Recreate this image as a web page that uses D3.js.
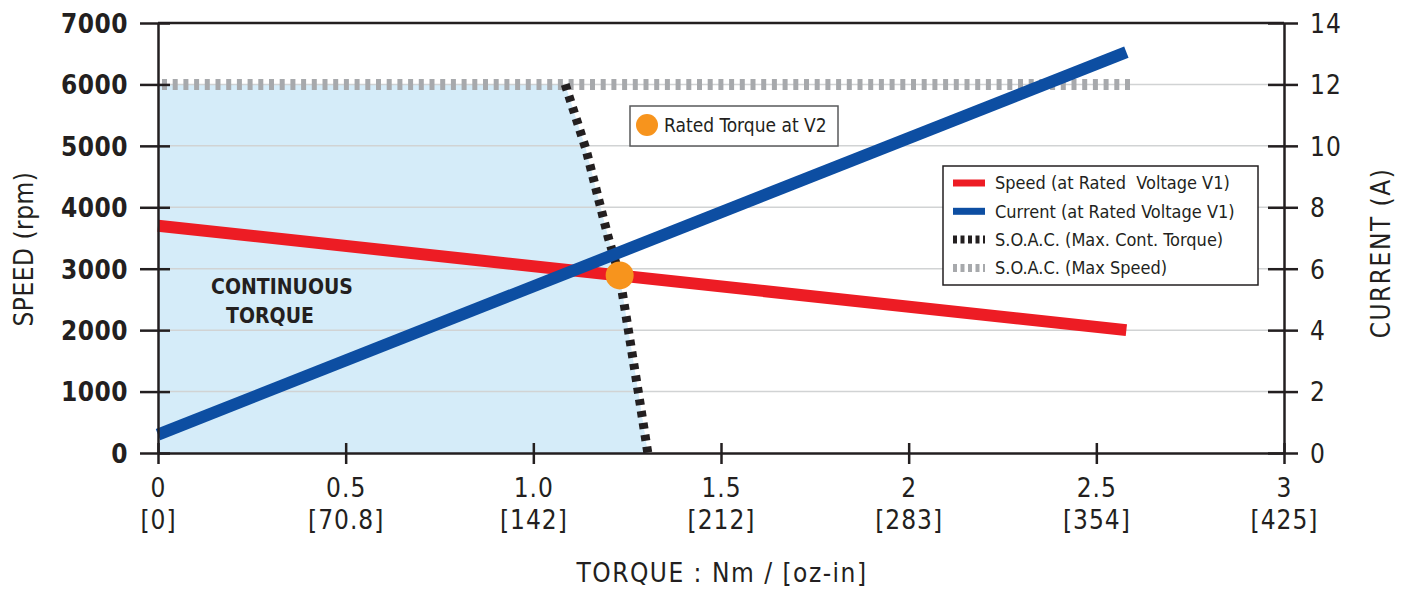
<!DOCTYPE html>
<html>
<head>
<meta charset="utf-8">
<script src="https://cdn.jsdelivr.net/npm/d3@7"></script>
<style>
  body { margin: 0; background: #fff; }
  svg text { font-family: "Liberation Sans Narrow", "DejaVu Sans Condensed", "Arial Narrow", sans-serif; font-stretch: condensed; fill: #231f20; }
  .tick text { font-size: 26px; letter-spacing: 1px; }
  .axis path, .axis line { stroke: #231f20; stroke-width: 2.5px; }
  .grid line { stroke: #d1d3d4; stroke-width: 1.5px; }
</style>
</head>
<body>
<svg id="chart" width="1408" height="589"></svg>
<script>
// tick values and labels
var torqueTicks = [0, 0.5, 1, 1.5, 2, 2.5, 3];
var torqueLabels = ["0", "0.5", "1.0", "1.5", "2", "2.5", "3"];
var ozinLabels = ["[0]", "[70.8]", "[142]", "[212]", "[283]", "[354]", "[425]"];
var speedTicks = [0, 1000, 2000, 3000, 4000, 5000, 6000, 7000];
var currentTicks = [0, 2, 4, 6, 8, 10, 12, 14];

// series (torque Nm, value)
var speedV1 = [[0, 3700], [2.58, 2000]];
var currentV1 = [[0, 0.6], [2.58, 13.05]];
var soacTorque = [[1.085, 6000], [1.14, 4950], [1.20, 3500], [1.23, 2880], [1.28, 980], [1.305, 0]];
var soacSpeed = [[0, 6000], [2.58, 6000]];
var ratedTorqueV2 = [1.23, 2890];

var legendItems = [
    { label: "Speed (at Rated  Voltage V1)", color: "#ed1c24", type: "solid" },
    { label: "Current (at Rated Voltage V1)", color: "#0d4ea2", type: "solid" },
    { label: "S.O.A.C. (Max. Cont. Torque)", color: "#231f20", type: "dash" },
    { label: "S.O.A.C. (Max Speed)", color: "#a7a9ac", type: "dash" }
];

var svg = d3.select("#chart");
var plotL = 158, plotR = 1284, plotT = 23, plotB = 453;

var x = d3.scaleLinear().domain([0, 3]).range([plotL, plotR]);
var yS = d3.scaleLinear().domain([0, 7000]).range([plotB, plotT]);
var yC = d3.scaleLinear().domain([0, 14]).range([plotB, plotT]);

// continuous torque region
var region = [[0, 0], [0, 6000]].concat(soacTorque);
svg.append("path")
    .attr("d", d3.line().x(function (d) { return x(d[0]); }).y(function (d) { return yS(d[1]); })(region) + "Z")
    .attr("fill", "#d5ecf9");

// grid
svg.append("g").attr("class", "grid")
    .selectAll("line")
    .data(speedTicks.slice(1, -1))
    .enter().append("line")
    .attr("x1", plotL).attr("x2", plotR)
    .attr("y1", function (d) { return yS(d); })
    .attr("y2", function (d) { return yS(d); });

// top frame
svg.append("line")
    .attr("x1", plotL).attr("x2", plotR)
    .attr("y1", plotT).attr("y2", plotT)
    .attr("stroke", "#231f20").attr("stroke-width", 2.5);

svg.append("text")
    .attr("x", 282).attr("y", 294)
    .attr("text-anchor", "middle")
    .style("font-size", "21px").style("font-weight", "bold")
    .text("CONTINUOUS");
svg.append("text")
    .attr("x", 270).attr("y", 323)
    .attr("text-anchor", "middle")
    .style("font-size", "21px").style("font-weight", "bold")
    .text("TORQUE");

var lineS = d3.line().x(function (d) { return x(d[0]); }).y(function (d) { return yS(d[1]); });
var lineC = d3.line().x(function (d) { return x(d[0]); }).y(function (d) { return yC(d[1]); });

svg.append("path")
    .attr("d", lineS(soacSpeed))
    .attr("fill", "none")
    .attr("stroke", "#a7a9ac")
    .attr("stroke-width", 11)
    .attr("stroke-dasharray", "5,5.7")
    .attr("transform", "translate(4,0)");

svg.append("path")
    .attr("d", lineS(soacTorque))
    .attr("fill", "none")
    .attr("stroke", "#231f20")
    .attr("stroke-width", 9)
    .attr("stroke-dasharray", "6,6");

svg.append("path")
    .attr("d", lineS(speedV1))
    .attr("fill", "none")
    .attr("stroke", "#ed1c24")
    .attr("stroke-width", 12);

svg.append("path")
    .attr("d", lineC(currentV1))
    .attr("fill", "none")
    .attr("stroke", "#0d4ea2")
    .attr("stroke-width", 12);

svg.append("circle")
    .attr("cx", x(ratedTorqueV2[0]))
    .attr("cy", yS(ratedTorqueV2[1]))
    .attr("r", 14)
    .attr("fill", "#f7941d");

// axes
var xAxis = svg.append("g").attr("class", "axis")
    .attr("transform", "translate(0," + plotB + ")")
    .call(d3.axisBottom(x).tickValues(torqueTicks).tickSize(11).tickSizeOuter(0).tickFormat(""));
xAxis.selectAll(".tick line").attr("y1", -10);
xAxis.selectAll(".tick text").remove();
xAxis.selectAll(".tick").each(function (d, i) {
    var t = d3.select(this).append("text").attr("text-anchor", "middle");
    t.append("tspan").attr("x", 0).attr("y", 44).text(torqueLabels[i]);
    t.append("tspan").attr("x", 0).attr("y", 76).text(ozinLabels[i]);
});

var yAxisL = svg.append("g").attr("class", "axis")
    .attr("transform", "translate(" + plotL + ",0)")
    .call(d3.axisLeft(yS).tickValues(speedTicks).tickSize(18).tickSizeOuter(0).tickFormat(d3.format("d")));
yAxisL.selectAll(".tick line").attr("x2", -18).attr("x1", 12);
yAxisL.selectAll(".tick text").attr("x", -30).attr("dy", "0.36em")
    .style("font-weight", "bold").style("letter-spacing", "0.5px");

var yAxisR = svg.append("g").attr("class", "axis")
    .attr("transform", "translate(" + plotR + ",0)")
    .call(d3.axisRight(yC).tickValues(currentTicks).tickSize(14).tickSizeOuter(0));
yAxisR.selectAll(".tick line").attr("x1", -16).attr("x2", 14);
yAxisR.selectAll(".tick text").attr("x", 26).attr("dy", "0.36em");

// axis titles
svg.append("text")
    .attr("transform", "translate(33,249) rotate(-90)")
    .attr("text-anchor", "middle")
    .style("font-size", "26px").style("letter-spacing", "0.5px")
    .text("SPEED (rpm)");
svg.append("text")
    .attr("transform", "translate(1390,253) rotate(-90)")
    .attr("text-anchor", "middle")
    .style("font-size", "26px").style("letter-spacing", "1.5px")
    .text("CURRENT (A)");
svg.append("text")
    .attr("x", 722).attr("y", 582)
    .attr("text-anchor", "middle")
    .style("font-size", "26px").style("letter-spacing", "1.5px")
    .text("TORQUE : Nm / [oz-in]");

// rated torque marker box
var rt = svg.append("g").attr("transform", "translate(630,106)");
rt.append("rect").attr("width", 208).attr("height", 40)
    .attr("fill", "#fff").attr("stroke", "#58595b").attr("stroke-width", 1.5);
rt.append("circle").attr("cx", 17).attr("cy", 19).attr("r", 11).attr("fill", "#f7941d");
rt.append("text").attr("x", 34).attr("y", 26)
    .style("font-size", "19px")
    .text("Rated Torque at V2");

// legend
var lg = svg.append("g").attr("transform", "translate(943,166)");
lg.append("rect").attr("width", 315).attr("height", 119)
    .attr("fill", "#fff").attr("stroke", "#231f20").attr("stroke-width", 1.5);
var item = lg.selectAll(".item")
    .data(legendItems)
    .enter().append("g")
    .attr("transform", function (d, i) { return "translate(0," + (17 + i * 28.3) + ")"; });
item.append("line")
    .attr("x1", 10).attr("x2", 42)
    .attr("stroke", function (d) { return d.color; })
    .attr("stroke-width", function (d) { return d.type == "dash" ? 8 : 7; })
    .attr("stroke-dasharray", function (d) { return d.type == "dash" ? "4,3.5" : null; });
item.append("text")
    .attr("x", 52).attr("dy", "0.36em")
    .style("font-size", "18px").style("white-space", "pre")
    .text(function (d) { return d.label; });
</script>
</body>
</html>
